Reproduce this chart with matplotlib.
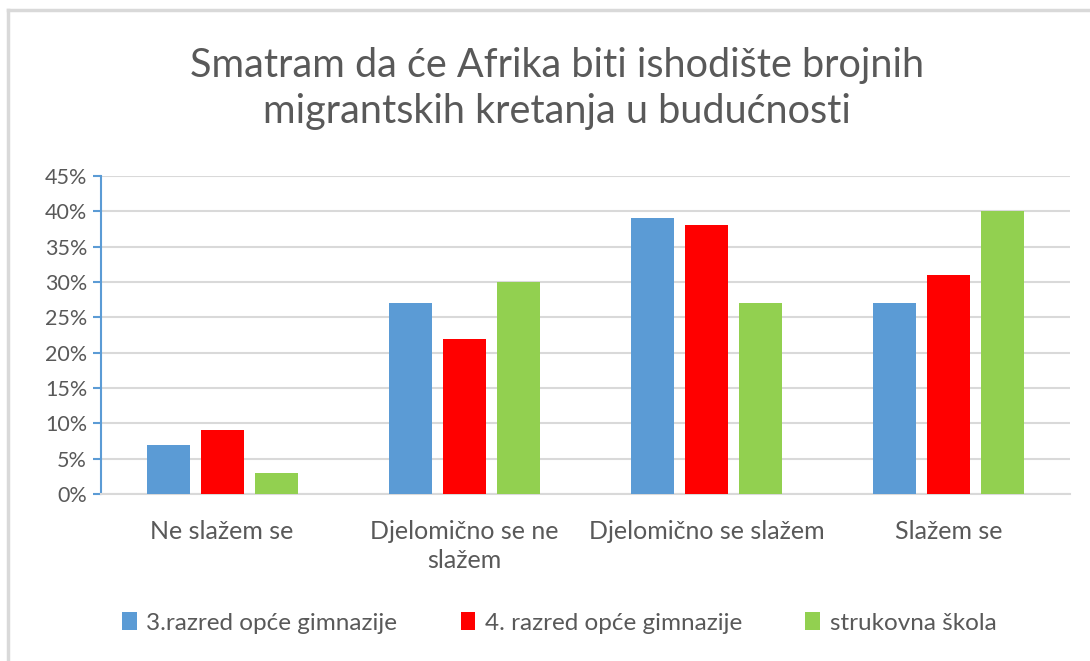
import matplotlib.pyplot as plt
import numpy as np
from matplotlib.lines import Line2D

categories = ["Ne slažem se", "Djelomično se ne\nslažem", "Djelomično se slažem", "Slažem se"]
series_names = ["3.razred opće gimnazije", "4. razred opće gimnazije", "strukovna škola"]
treci = [7, 27, 39, 27]
cetvrti = [9, 22, 38, 31]
strukovna = [3, 30, 27, 40]
colors = ["#5B9BD5", "#FF0000", "#92D050"]

plt.rcParams['font.family'] = ['Lato', 'DejaVu Sans']
grey = "#595959"

fig = plt.figure(figsize=(10.9, 6.61), dpi=100)
ax = fig.add_axes([101 / 1090, 1 - 494 / 661, 969 / 1090, (494 - 176) / 661])

x = np.arange(len(categories))
w = 0.178
step = 0.223
for i, (vals, c) in enumerate(zip([treci, cetvrti, strukovna], colors)):
    ax.bar(x + (i - 1) * step, vals, width=w, color=c, label=series_names[i], zorder=3)

ax.set_xlim(-0.5, len(categories) - 0.5)
ax.set_ylim(0, 45)
ax.set_yticks(np.arange(0, 46, 5))
ax.set_yticklabels([f"{v}%" for v in range(0, 46, 5)])
ax.yaxis.grid(True, color="#D9D9D9", linewidth=1.5, zorder=0)
ax.set_axisbelow(True)

ax.spines['top'].set_visible(False)
ax.spines['right'].set_visible(False)
ax.spines['left'].set_color("#5B9BD5")
ax.spines['left'].set_linewidth(1.5)
ax.spines['bottom'].set_color("#D9D9D9")
ax.spines['bottom'].set_linewidth(1.5)
ax.tick_params(axis='y', colors="#5B9BD5", length=6, width=1.5, labelcolor=grey, labelsize=15.5, pad=4)
ax.tick_params(axis='x', length=0, labelcolor=grey, labelsize=18, pad=19)
ax.set_xticks(x)
ax.set_xticklabels(categories, linespacing=1.3, va='top')

fig.text(0.511, 1 - 89 / 661, "Smatram da će Afrika biti ishodište brojnih\nmigrantskih kretanja u budućnosti",
         ha='center', va='center', fontsize=28.5, color=grey, linespacing=1.3)

leg = fig.legend(loc='center', bbox_to_anchor=(0.513, 1 - 623 / 661), ncol=3, frameon=False,
                 fontsize=17.5, handlelength=0.6, handleheight=0.7, handletextpad=0.4,
                 columnspacing=2.6, labelcolor=grey)

# chart frame
fig.add_artist(Line2D([8 / 1090, 8 / 1090], [0, 1 - 10 / 661], color="#D9D9D9", linewidth=2.5))
fig.add_artist(Line2D([8 / 1090, 1], [1 - 10 / 661, 1 - 10 / 661], color="#D9D9D9", linewidth=2.5))

fig.savefig("out.png", dpi=100)
